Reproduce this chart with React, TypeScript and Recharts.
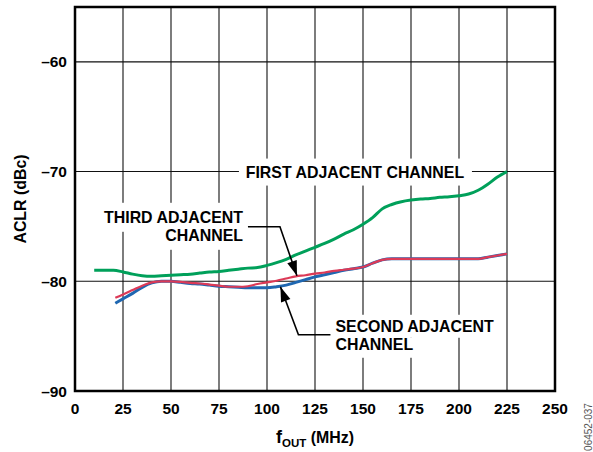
import React from 'react';
import { LineChart, Line, XAxis, YAxis, CartesianGrid, ReferenceDot, ReferenceArea, Label } from 'recharts';

const xTicks = [0, 25, 50, 75, 100, 125, 150, 175, 200, 225, 250];
const yTicks = [-90, -80, -70, -60];

const firstFreq = [10, 15, 20, 25, 30, 35, 40, 45, 50, 55, 60, 65, 70, 75, 80, 85, 90, 95, 100, 105, 110, 115, 120, 125, 130, 135, 140, 145, 150, 155, 160, 165, 170, 175, 180, 185, 190, 195, 200, 205, 210, 215, 220, 225];
const firstAclr = [-79.0, -79.0, -79.0, -79.15, -79.35, -79.5, -79.55, -79.5, -79.45, -79.4, -79.35, -79.25, -79.15, -79.1, -79.0, -78.9, -78.8, -78.75, -78.55, -78.3, -78.0, -77.6, -77.25, -76.9, -76.55, -76.15, -75.7, -75.3, -74.8, -74.2, -73.4, -73.0, -72.75, -72.6, -72.5, -72.45, -72.35, -72.3, -72.2, -72.05, -71.7, -71.15, -70.5, -70.0];

const adjFreq = [21, 25, 30, 35, 40, 45, 50, 55, 60, 65, 70, 75, 80, 85, 90, 95, 100, 105, 110, 115, 120, 125, 130, 135, 140, 145, 150, 155, 160, 165, 170, 175, 180, 185, 190, 195, 200, 205, 210, 215, 220, 225];
const secondAclr = [-82.0, -81.6, -81.1, -80.55, -80.15, -80.0, -80.0, -80.1, -80.2, -80.25, -80.35, -80.45, -80.5, -80.55, -80.6, -80.6, -80.6, -80.5, -80.35, -80.1, -79.85, -79.6, -79.4, -79.2, -79.0, -78.85, -78.7, -78.35, -78.05, -77.95, -77.95, -77.95, -77.95, -77.95, -77.95, -77.95, -77.95, -77.95, -77.95, -77.8, -77.65, -77.5];
const thirdAclr = [-81.5, -81.2, -80.8, -80.4, -80.1, -80.0, -80.0, -80.05, -80.15, -80.2, -80.3, -80.4, -80.5, -80.5, -80.45, -80.25, -80.1, -79.95, -79.75, -79.55, -79.45, -79.3, -79.2, -79.05, -78.95, -78.85, -78.7, -78.35, -78.05, -77.95, -77.95, -77.95, -77.95, -77.95, -77.95, -77.95, -77.95, -77.95, -77.95, -77.8, -77.65, -77.5];

const firstLabel = 'FIRST ADJACENT CHANNEL';
const secondLabel = ['SECOND ADJACENT', 'CHANNEL'];
const thirdLabel = ['THIRD ADJACENT', 'CHANNEL'];
const figureId = '06452-037';

const firstData = firstFreq.map((x, i) => ({ x, y: firstAclr[i] }));
const secondData = adjFreq.map((x, i) => ({ x, y: secondAclr[i] }));
const thirdData = adjFreq.map((x, i) => ({ x, y: thirdAclr[i] }));

const FONT = '"Liberation Sans", Arial, Helvetica, sans-serif';
const FS = 15.5;
const AFS = 15.9;

const fmt = (v: number) => (v < 0 ? '\u2013' + Math.abs(v) : String(v));

const YTick = (props: any) => {
  const { x, y, payload } = props;
  return (
    <text x={x - 8} y={y} textAnchor="end" dominantBaseline="central" fontFamily={FONT} fontWeight="bold" fontSize={FS} fill="#000">
      {fmt(payload.value)}
    </text>
  );
};

const XTick = (props: any) => {
  const { x, y, payload } = props;
  return (
    <text x={x} y={y + 17} textAnchor="middle" dominantBaseline="central" fontFamily={FONT} fontWeight="bold" fontSize={FS} fill="#000">
      {fmt(payload.value)}
    </text>
  );
};

const arrowHead = (tx: number, ty: number, fx: number, fy: number, len = 15, half = 5) => {
  const dx = tx - fx;
  const dy = ty - fy;
  const L = Math.hypot(dx, dy);
  const ux = dx / L;
  const uy = dy / L;
  const bx = tx - ux * len;
  const by = ty - uy * len;
  return `${tx},${ty} ${bx - uy * half},${by + ux * half} ${bx + uy * half},${by - ux * half}`;
};

const textProps = { fontFamily: FONT, fontWeight: 'bold' as const, fontSize: AFS, fill: '#000' };

const FirstShape = (props: any) => {
  const { cx, cy } = props;
  return (
    <g>
      <rect x={cx - 116} y={cy - 13} width={233} height={27} fill="#fff" />
      <text x={cx} y={cy + 1} textAnchor="middle" dominantBaseline="central" {...textProps}>{firstLabel}</text>
    </g>
  );
};

const ThirdShape = (props: any) => {
  const { cx, cy } = props;
  const corner = { x: cx - 17, y: cy - 49 };
  return (
    <g>
      <rect x={cx - 199} y={cy - 73} width={150} height={29} fill="#fff" />
      <rect x={cx - 137} y={cy - 44} width={88} height={18} fill="#fff" />
      <text x={cx - 54} y={cy - 58} textAnchor="end" dominantBaseline="central" {...textProps}>{thirdLabel[0]}</text>
      <text x={cx - 54} y={cy - 40} textAnchor="end" dominantBaseline="central" {...textProps}>{thirdLabel[1]}</text>
      <polyline points={`${cx - 49},${corner.y} ${corner.x},${corner.y} ${cx},${cy}`} fill="none" stroke="#000" strokeWidth={1.6} />
      <polygon points={arrowHead(cx, cy, corner.x, corner.y)} fill="#000" />
    </g>
  );
};

const SecondShape = (props: any) => {
  const { cx, cy } = props;
  const corner = { x: cx + 18, y: cy + 48 };
  return (
    <g>
      <rect x={cx + 50} y={cy + 28} width={168} height={23} fill="#fff" />
      <rect x={cx + 50} y={cy + 51} width={90} height={20} fill="#fff" />
      <text x={cx + 55} y={cy + 40} textAnchor="start" dominantBaseline="central" {...textProps}>{secondLabel[0]}</text>
      <text x={cx + 55} y={cy + 58} textAnchor="start" dominantBaseline="central" {...textProps}>{secondLabel[1]}</text>
      <polyline points={`${cx + 50},${corner.y} ${corner.x},${corner.y} ${cx},${cy}`} fill="none" stroke="#000" strokeWidth={1.6} />
      <polygon points={arrowHead(cx, cy, corner.x, corner.y)} fill="#000" />
    </g>
  );
};

const XTitle = (props: any) => {
  const { viewBox } = props;
  const { x, y, width } = viewBox;
  return (
    <g>
      <text x={x + width / 2} y={y + 52} textAnchor="middle" {...textProps}>
        <tspan fontSize={18}>f</tspan>
        <tspan fontSize={11.5} dy={4}>OUT</tspan>
        <tspan dy={-4}> (MHz)</tspan>
      </text>
      <text
        x={588}
        y={427}
        transform="rotate(-90, 588, 427)"
        textAnchor="middle"
        dominantBaseline="central"
        fontFamily={FONT}
        fontSize={10}
        fill="#555"
      >
        {figureId}
      </text>
    </g>
  );
};

const YTitle = (props: any) => {
  const { viewBox } = props;
  const { y, height } = viewBox;
  const cx = 20;
  const cy = y + height / 2;
  return (
    <text x={cx} y={cy} transform={`rotate(-90, ${cx}, ${cy})`} textAnchor="middle" dominantBaseline="central" {...textProps}>
      ACLR (dBc)
    </text>
  );
};

export default function App() {
  return (
    <div style={{ position: 'absolute', left: 0, top: 0, background: '#fff' }}>
      <LineChart width={593} height={452} margin={{ top: 7, right: 38, bottom: 0, left: 0 }}>
        <CartesianGrid stroke="#111" strokeWidth={1.1} />
        <XAxis
          type="number"
          dataKey="x"
          domain={[0, 250]}
          ticks={xTicks}
          height={61}
          tickSize={0}
          tickMargin={0}
          axisLine={false}
          tickLine={false}
          tick={<XTick />}
          interval={0}
          allowDataOverflow
        >
          <Label content={<XTitle />} />
        </XAxis>
        <YAxis
          type="number"
          domain={[-90, -55]}
          ticks={yTicks}
          width={75}
          tickSize={0}
          tickMargin={0}
          axisLine={false}
          tickLine={false}
          tick={<YTick />}
          interval={0}
          allowDataOverflow
        >
          <Label content={<YTitle />} />
        </YAxis>
        <ReferenceArea x1={0} x2={250} y1={-90} y2={-55} fill="none" stroke="#000" strokeWidth={2.5} ifOverflow="visible" />
        <ReferenceDot x={145.8} y={-70} r={0} ifOverflow="visible" shape={<FirstShape />} />
        <ReferenceDot x={115.6} y={-79.5} r={0} ifOverflow="visible" shape={<ThirdShape />} />
        <ReferenceDot x={107} y={-80.5} r={0} ifOverflow="visible" shape={<SecondShape />} />
        <Line data={firstData} dataKey="y" type="monotone" stroke="#00a05a" strokeWidth={3} dot={false} isAnimationActive={false} />
        <Line data={secondData} dataKey="y" type="monotone" stroke="#1f67b1" strokeWidth={3} dot={false} isAnimationActive={false} />
        <Line data={thirdData} dataKey="y" type="monotone" stroke="#dc3a57" strokeWidth={2.2} dot={false} isAnimationActive={false} />
      </LineChart>
    </div>
  );
}
